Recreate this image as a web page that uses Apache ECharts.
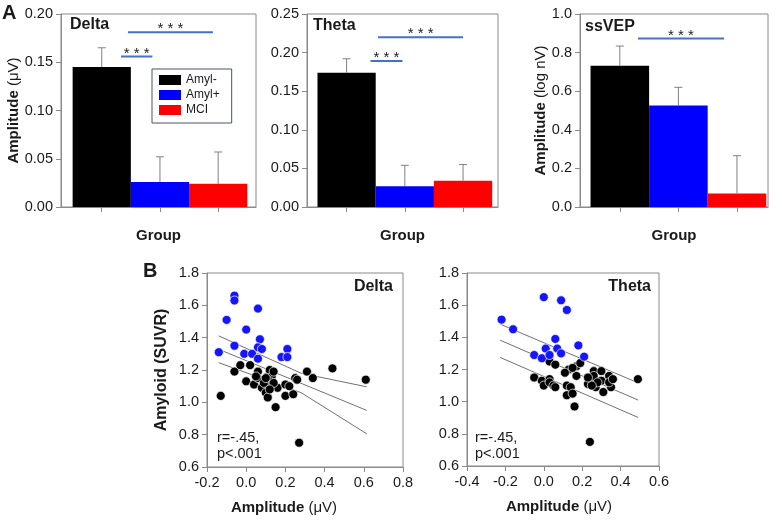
<!DOCTYPE html>
<html>
<head>
<meta charset="utf-8">
<script src="https://cdn.jsdelivr.net/npm/echarts@6/dist/echarts.min.js"></script>
<style>
  html, body { margin: 0; padding: 0; background: #fff; }
  #myChart { width: 777px; height: 520px; }
</style>
</head>
<body>
<div id="myChart"></div>
<script>
// 分组
var groups = ['Amyl-', 'Amyl+', 'MCI']
var groupColors = ['#000000', '#0000ff', '#ff0000']

// A: mean + upper error bar per group
var deltaMean = [0.145, 0.026, 0.024]
var deltaErr = [0.020, 0.026, 0.033]
var thetaMean = [0.174, 0.027, 0.034]
var thetaErr = [0.018, 0.027, 0.021]
var ssvepMean = [0.732, 0.526, 0.070]
var ssvepErr = [0.102, 0.094, 0.196]

// significance lines [from, to, y]
var deltaSig = [[0.33, 0.87, 0.156], [0.45, 1.91, 0.181]]
var thetaSig = [[0.41, 0.96, 0.189], [0.54, 2.00, 0.220]]
var ssvepSig = [[0.31, 1.78, 0.873]]

// B: amplitude vs amyloid
var deltaBlue = [[-0.06, 1.66], [-0.06, 1.63], [0.06, 1.58], [-0.10, 1.51], [0.00, 1.45], [0.07, 1.39],
  [-0.06, 1.35], [-0.14, 1.31], [0.06, 1.34], [0.08, 1.33], [-0.01, 1.30], [0.03, 1.30], [0.06, 1.27],
  [0.18, 1.28], [0.21, 1.33], [0.21, 1.28]]
var deltaBlack = [[-0.13, 1.04], [-0.06, 1.19], [-0.03, 1.23], [0.02, 1.23], [0.00, 1.13], [0.04, 1.11],
  [0.06, 1.19], [0.06, 1.15], [0.08, 1.09], [0.11, 1.16], [0.12, 1.20], [0.13, 1.16], [0.10, 1.06],
  [0.11, 1.03], [0.12, 1.13], [0.16, 1.09], [0.09, 1.12], [0.20, 1.04], [0.24, 1.05], [0.20, 1.11],
  [0.22, 1.10], [0.25, 1.15], [0.26, 1.14], [0.15, 0.97], [0.31, 1.19], [0.34, 1.15], [0.44, 1.21],
  [0.61, 1.14], [0.27, 0.75], [0.14, 1.19], [0.10, 1.15], [0.14, 1.12], [0.05, 1.16], [0.12, 1.08]]
var thetaBlue = [[0.00, 1.65], [0.09, 1.63], [0.12, 1.57], [-0.22, 1.51], [-0.16, 1.45], [0.06, 1.39],
  [0.01, 1.33], [0.07, 1.33], [0.09, 1.30], [-0.05, 1.29], [-0.01, 1.27], [0.03, 1.29], [0.18, 1.35],
  [0.21, 1.28]]
var thetaBlack = [[-0.05, 1.15], [-0.01, 1.13], [0.00, 1.10], [0.03, 1.14], [0.03, 1.12], [0.05, 1.10],
  [0.06, 1.09], [0.03, 1.25], [0.06, 1.23], [0.13, 1.20], [0.11, 1.18], [0.17, 1.22], [0.19, 1.24],
  [0.17, 1.16], [0.12, 1.10], [0.14, 1.09], [0.12, 1.04], [0.15, 1.05], [0.16, 0.97], [0.15, 1.21],
  [0.26, 1.19], [0.30, 1.19], [0.24, 1.13], [0.26, 1.16], [0.27, 1.09], [0.30, 1.13], [0.31, 1.06],
  [0.34, 1.16], [0.35, 1.09], [0.34, 1.12], [0.23, 1.11], [0.49, 1.14], [0.24, 0.75], [0.28, 1.12],
  [0.36, 1.14], [0.25, 1.10], [0.23, 1.15]]

// regression line and confidence band
var deltaFit = [[-0.14, 1.328], [0.615, 0.950]]
var deltaUpper = [[-0.14, 1.411], [0.28, 1.18], [0.615, 1.096]]
var deltaLower = [[-0.14, 1.245], [0.28, 1.06], [0.615, 0.805]]
var thetaFit = [[-0.227, 1.382], [0.491, 1.010]]
var thetaUpper = [[-0.227, 1.482], [0.491, 1.117]]
var thetaLower = [[-0.227, 1.275], [0.491, 0.902]]

var FONT = '"Liberation Sans", Arial, sans-serif'
var AXIS_GRAY = '#8a8a8a'
var LABEL_COLOR = '#1a1a1a'

function renderErr (params, api) {
  var x = api.value(0)
  var m = api.value(1)
  var e = api.value(2)
  var p0 = api.coord([x, m])
  var p1 = api.coord([x, m + e])
  var style = { stroke: '#808080', lineWidth: 1 }
  return {
    type: 'group',
    children: [
      { type: 'line', shape: { x1: p0[0], y1: p0[1], x2: p1[0], y2: p1[1] }, style: style },
      { type: 'line', shape: { x1: p1[0] - 4, y1: p1[1], x2: p1[0] + 4, y2: p1[1] }, style: style }
    ]
  }
}

function renderSig (params, api) {
  var a = api.coord([api.value(0), api.value(2)])
  var b = api.coord([api.value(1), api.value(2)])
  return {
    type: 'group',
    children: [
      { type: 'line', shape: { x1: a[0], y1: a[1], x2: b[0], y2: b[1] }, style: { stroke: '#4472c4', lineWidth: 2 } },
      {
        type: 'text',
        x: (a[0] + b[0]) / 2,
        y: a[1] - 3,
        style: { text: '* * *', fontSize: 15, fontFamily: FONT, fill: '#222', align: 'center', verticalAlign: 'middle' }
      }
    ]
  }
}

// bar panels
var barPanels = [
  { mean: deltaMean, err: deltaErr, sig: deltaSig, max: 0.20, interval: 0.05, digits: 2, min: -0.7, xmax: 2.65,
    grid: { left: 61, top: 14, width: 195, height: 193 }, yName: '{b|Amplitude} (μV)', nameGap: 40 },
  { mean: thetaMean, err: thetaErr, sig: thetaSig, max: 0.25, interval: 0.05, digits: 2, min: -0.68, xmax: 2.6,
    grid: { left: 307, top: 14, width: 191, height: 193 }, yName: '' },
  { mean: ssvepMean, err: ssvepErr, sig: ssvepSig, max: 1.0, interval: 0.2, digits: 1, min: -0.68, xmax: 2.53,
    grid: { left: 580, top: 14, width: 188, height: 193 }, yName: '{b|Amplitude} (log nV)', nameGap: 30 }
]

// scatter panels
var scatterPanels = [
  { blue: deltaBlue, black: deltaBlack, fit: deltaFit, upper: deltaUpper, lower: deltaLower, xmin: -0.2, xmax: 0.8,
    grid: { left: 207, top: 273, width: 196, height: 194 }, yName: 'Amyloid (SUVR)', xPad: [0, 42, 0, 0] },
  { blue: thetaBlue, black: thetaBlack, fit: thetaFit, upper: thetaUpper, lower: thetaLower, xmin: -0.4, xmax: 0.6,
    grid: { left: 467, top: 273, width: 192, height: 193 }, yName: '', xPad: [0, 8, 0, 0] }
]

var grids = []
var xAxes = []
var yAxes = []
var series = []

function baseAxis (gi) {
  return {
    gridIndex: gi,
    axisLine: { show: true, onZero: false, lineStyle: { color: AXIS_GRAY, width: 1 } },
    axisTick: { show: true, inside: false, length: 5, lineStyle: { color: AXIS_GRAY } },
    splitLine: { show: false },
    axisLabel: { color: LABEL_COLOR, fontSize: 14.5, fontFamily: FONT }
  }
}

barPanels.forEach(function (p, gi) {
  grids.push(Object.assign({ show: true, borderColor: AXIS_GRAY, borderWidth: 1, backgroundColor: 'transparent' }, p.grid))
  var xa = baseAxis(gi)
  xa.type = 'value'
  xa.min = p.min
  xa.max = p.xmax
  xa.axisLabel = { show: false }
  xa.axisTick.customValues = [0, 1, 2]
  xa.name = 'Group'
  xa.nameLocation = 'middle'
  xa.nameGap = 21
  xa.nameTextStyle = { fontSize: 15, fontWeight: 'bold', color: LABEL_COLOR, fontFamily: FONT }
  xAxes.push(xa)
  var ya = baseAxis(gi)
  ya.type = 'value'
  ya.min = 0
  ya.max = p.max
  ya.interval = p.interval
  ya.axisLabel.formatter = (function (d) { return function (v) { return v.toFixed(d) } })(p.digits)
  if (p.yName) {
    ya.name = p.yName
    ya.nameLocation = 'middle'
    ya.nameRotate = 90
    ya.nameGap = p.nameGap
    ya.nameTextStyle = {
      fontSize: 15, color: LABEL_COLOR, fontFamily: FONT,
      rich: { b: { fontSize: 15, fontWeight: 'bold', color: LABEL_COLOR, fontFamily: FONT } }
    }
  }
  yAxes.push(ya)
  groups.forEach(function (g, i) {
    series.push({
      name: g,
      type: 'bar',
      xAxisIndex: gi,
      yAxisIndex: gi,
      barWidth: '100%',
      barGap: '-100%',
      itemStyle: { color: groupColors[i] },
      data: [[i, p.mean[i]]]
    })
  })
  series.push({
    type: 'custom',
    xAxisIndex: gi,
    yAxisIndex: gi,
    renderItem: renderErr,
    encode: { x: 0, y: 1 },
    data: p.mean.map(function (m, i) { return [i, m, p.err[i]] }),
    z: 3
  })
  series.push({
    type: 'custom',
    xAxisIndex: gi,
    yAxisIndex: gi,
    renderItem: renderSig,
    encode: { x: [0, 1], y: 2 },
    data: p.sig,
    z: 4
  })
})

scatterPanels.forEach(function (p, k) {
  var gi = barPanels.length + k
  grids.push(Object.assign({ show: true, borderColor: AXIS_GRAY, borderWidth: 1, backgroundColor: 'transparent' }, p.grid))
  var xa = baseAxis(gi)
  xa.type = 'value'
  xa.min = p.xmin
  xa.max = p.xmax
  xa.interval = 0.2
  xa.axisLabel.formatter = function (v) { return v.toFixed(1) }
  xa.name = '{b|Amplitude} (μV)'
  xa.nameLocation = 'middle'
  xa.nameGap = 33
  xa.nameTextStyle = {
    fontSize: 15, color: LABEL_COLOR, fontFamily: FONT, padding: p.xPad,
    rich: { b: { fontSize: 15, fontWeight: 'bold', color: LABEL_COLOR, fontFamily: FONT } }
  }
  xAxes.push(xa)
  var ya = baseAxis(gi)
  ya.type = 'value'
  ya.min = 0.6
  ya.max = 1.8
  ya.interval = 0.2
  ya.axisLabel.formatter = function (v) { return v.toFixed(1) }
  if (p.yName) {
    ya.name = p.yName
    ya.nameLocation = 'middle'
    ya.nameRotate = 90
    ya.nameGap = 37
    ya.nameTextStyle = { fontSize: 16, fontWeight: 'bold', color: LABEL_COLOR, fontFamily: FONT }
  }
  yAxes.push(ya)
  ;[p.upper, p.fit, p.lower].forEach(function (d) {
    series.push({
      type: 'line',
      xAxisIndex: gi,
      yAxisIndex: gi,
      data: d,
      showSymbol: false,
      silent: true,
      lineStyle: { color: '#707070', width: 1 },
      z: 1
    })
  })
  series.push({
    type: 'scatter',
    xAxisIndex: gi,
    yAxisIndex: gi,
    symbolSize: 9,
    itemStyle: { color: '#000', borderColor: '#fff', borderWidth: 0.7, opacity: 1 },
    data: p.black,
    z: 2
  })
  series.push({
    type: 'scatter',
    xAxisIndex: gi,
    yAxisIndex: gi,
    symbolSize: 9,
    itemStyle: { color: '#1414ff', borderColor: '#fff', borderWidth: 0.7, opacity: 1 },
    data: p.blue,
    z: 2
  })
})

function txt (x, y, text, size, weight, align) {
  return {
    type: 'text',
    x: x,
    y: y,
    style: {
      text: text, fontSize: size, fontWeight: weight || 'normal', fontFamily: FONT,
      fill: LABEL_COLOR, align: align || 'left', verticalAlign: 'middle'
    }
  }
}

var option = {
  animation: false,
  textStyle: { fontFamily: FONT },
  grid: grids,
  xAxis: xAxes,
  yAxis: yAxes,
  legend: {
    data: groups,
    orient: 'vertical',
    left: 152,
    top: 69,
    itemWidth: 22,
    itemHeight: 10,
    itemGap: 3,
    itemTextGap: 4,
    icon: 'rect',
    padding: [5, 12, 7, 7],
    borderColor: '#44546a',
    borderWidth: 1,
    backgroundColor: '#fff',
    textStyle: { fontSize: 12, color: LABEL_COLOR, fontFamily: FONT },
    selectedMode: false
  },
  graphic: [
    txt(2, 13, 'A', 20, 'bold'),
    txt(143, 271, 'B', 20, 'bold'),
    txt(70, 25, 'Delta', 16, 'bold'),
    txt(313, 26, 'Theta', 16, 'bold'),
    txt(585, 27, 'ssVEP', 16, 'bold'),
    txt(393, 287, 'Delta', 16, 'bold', 'right'),
    txt(651, 287, 'Theta', 16, 'bold', 'right'),
    txt(217, 438, 'r=-.45,', 14.5),
    txt(217, 454, 'p<.001', 14.5),
    txt(475, 438, 'r=-.45,', 14.5),
    txt(475, 454, 'p<.001', 14.5)
  ],
  series: series
}

var myChart = echarts.init(document.getElementById('myChart'))
myChart.setOption(option)
</script>
</body>
</html>
